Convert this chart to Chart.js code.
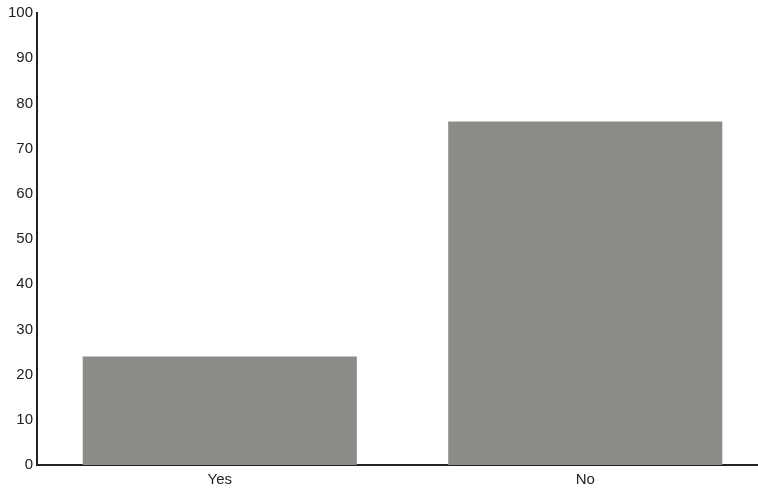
<!DOCTYPE html>
<html>
<head>
<meta charset="utf-8">
<script src="https://cdn.jsdelivr.net/npm/chart.js@4/dist/chart.umd.min.js"></script>
<style>
html,body{margin:0;padding:0;background:#fff;overflow:hidden;}
#wrap{width:758px;height:492px;position:relative;overflow:hidden;}
</style>
</head>
<body>
<div id="wrap"><canvas id="c" width="768" height="495"></canvas></div>
<script>
const categories = ["Yes", "No"];
const values = [24, 76];
const yTicks = [0, 10, 20, 30, 40, 50, 60, 70, 80, 90, 100];

const chart = new Chart(document.getElementById('c'), {
  type: 'bar',
  data: {
    labels: categories,
    datasets: [{
      data: values,
      backgroundColor: '#8b8b87',
      borderWidth: 0,
      categoryPercentage: 0.75,
      barPercentage: 1.0
    }]
  },
  options: {
    responsive: false,
    animation: false,
    layout: { padding: { top: 4, left: 4, right: 0, bottom: 0 } },
    plugins: { legend: { display: false }, tooltip: { enabled: false } },
    scales: {
      x: {
        grid: { display: false, drawTicks: false },
        border: { display: true, color: '#222', width: 2 },
        ticks: { color: '#222', font: { family: 'Liberation Sans, Arial, sans-serif', size: 15 }, padding: 6 }
      },
      y: {
        min: 0, max: 100,
        afterBuildTicks: (axis) => { axis.ticks = yTicks.map(v => ({ value: v })); },
        grid: { display: false, drawTicks: false },
        border: { display: true, color: '#222', width: 2 },
        ticks: { color: '#222', font: { family: 'Liberation Sans, Arial, sans-serif', size: 15 }, padding: 4 }
      }
    }
  }
});
</script>
</body>
</html>
